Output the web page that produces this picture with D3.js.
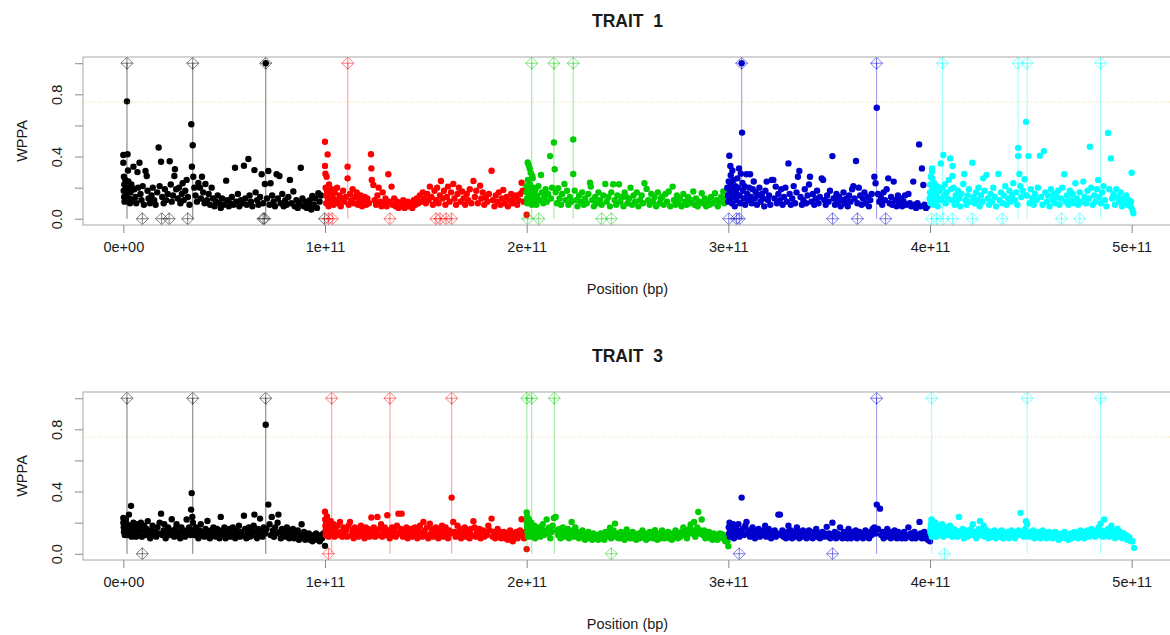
<!DOCTYPE html>
<html>
<head>
<meta charset="utf-8">
<script src="https://cdn.jsdelivr.net/npm/d3@7"></script>
<style>
  body { margin: 0; background: #fff; }
  svg text { font-family: "Liberation Sans", Arial, sans-serif; fill: #1a1a1a; }
</style>
</head>
<body>
<div id="chart"></div>
<script>
// positions in Gbp (1e9 bp), values are WPPA
const chromColors = ['#000000', '#FF0000', '#00CD00', '#0000CD', '#00FFFF'];
const xTicks = [0, 1e11, 2e11, 3e11, 4e11, 5e11];
const yTicks = [0, 0.2, 0.4, 0.6, 0.8, 1.0];
const yLabelled = [0, 0.4, 0.8];
const threshold = 0.75;

const trait1Chr1 = [[0,0.41],[0,0.36],[0.3,0.27],[0.5,0.22],[0.2,0.18],[0.4,0.14],[0.6,0.11],[1,0.25],[1.2,0.19],[1.5,0.16],[1.8,0.755],[2.1,0.415],[2.3,0.31],[2.5,0.24],[2.8,0.2],[3,0.13],[3.3,0.1],[3.6,0.17],[4,0.22],[4.3,0.12],[5,0.335],[5.5,0.19],[6,0.14],[6.4,0.1],[7,0.3],[7.3,0.2],[8,0.36],[8.5,0.16],[9,0.12],[9.6,0.21],[10.2,0.09],[11,0.307],[11.6,0.275],[12,0.18],[12.5,0.13],[13.2,0.1],[14,0.15],[14.6,0.2],[15.3,0.12],[16,0.09],[16.8,0.17],[17.5,0.458],[18,0.21],[18.7,0.367],[19.3,0.14],[20,0.1],[20.6,0.19],[21.3,0.12],[22,0.16],[23,0.37],[23.5,0.22],[24,0.11],[24.6,0.15],[25.3,0.275],[25.6,0.318],[26.2,0.19],[27,0.13],[27.6,0.2],[28.3,0.1],[29,0.16],[29.4,0.228],[30,0.12],[30.7,0.18],[31.4,0.25],[32,0.14],[32.8,0.09],[33.7,0.608],[34,0.335],[34.4,0.473],[34.7,0.27],[35.2,0.2],[35.8,0.15],[36.5,0.11],[37.2,0.23],[38,0.2],[38.5,0.13],[39,0.27],[39.6,0.17],[40.3,0.1],[40.7,0.224],[41.5,0.12],[42.3,0.16],[43,0.09],[43.8,0.2],[44.5,0.13],[45.2,0.08],[46,0.11],[46.8,0.15],[47.5,0.1],[48.3,0.07],[49,0.13],[49.8,0.09],[51,0.245],[51.5,0.12],[52.3,0.08],[53,0.1],[53.8,0.14],[54.6,0.09],[55.4,0.328],[56,0.11],[56.8,0.16],[57.5,0.08],[58.3,0.12],[59,0.1],[59.8,0.341],[60.5,0.13],[61.2,0.09],[62,0.384],[62.6,0.15],[63.3,0.11],[64,0.08],[65,0.313],[65.6,0.17],[66.3,0.12],[67,0.09],[67.8,0.14],[68.6,0.286],[69.3,0.1],[70.2,0.224],[70.6,1.0],[71.2,0.13],[71.9,0.307],[72.5,0.09],[73,0.228],[73.8,0.15],[74.5,0.11],[75.2,0.08],[76,0.286],[76.6,0.13],[77.4,0.275],[78,0.1],[78.8,0.16],[79.5,0.08],[80.3,0.12],[81,0.09],[81.8,0.14],[82.6,0.25],[83.3,0.1],[84.3,0.175],[85,0.08],[85.8,0.12],[86.5,0.07],[87.2,0.1],[88,0.328],[88.8,0.13],[89.5,0.08],[90.3,0.11],[91,0.07],[91.8,0.09],[92.5,0.12],[93.2,0.06],[93.7,0.147],[94.5,0.09],[95.2,0.13],[96,0.07],[96.7,0.164],[97.3,0.11],[98,0.15]];
const trait1Chr2 = [[100,0.495],[100,0.34],[100.2,0.29],[100.3,0.2],[100.5,0.15],[100.6,0.1],[100.8,0.27],[101,0.18],[101.3,0.414],[101.5,0.13],[101.8,0.08],[102,0.22],[102.4,0.16],[102.8,0.11],[103.3,0.19],[103.8,0.14],[104.3,0.09],[104.8,0.17],[105.4,0.12],[106,0.2],[106.6,0.1],[107.2,0.15],[107.8,0.08],[108.4,0.13],[109,0.18],[109.6,0.11],[110.3,0.14],[111.2,0.335],[111.2,0.26],[111.8,0.09],[112.4,0.16],[113,0.12],[113.7,0.19],[114.3,0.1],[115,0.14],[115.7,0.17],[116.3,0.09],[117,0.12],[117.7,0.15],[118.4,0.08],[119,0.11],[119.7,0.14],[120.4,0.09],[121,0.13],[121.8,0.1],[122.8,0.415],[123,0.324],[123.2,0.25],[124,0.217],[124.6,0.12],[125.3,0.09],[126,0.15],[126.6,0.2],[127.3,0.11],[128,0.08],[128.6,0.17],[129.3,0.1],[130,0.13],[130.6,0.08],[131.4,0.286],[132,0.11],[133,0.207],[133.6,0.09],[134.3,0.13],[135,0.08],[135.8,0.11],[136.5,0.07],[137.2,0.1],[138,0.08],[138.8,0.12],[139.5,0.07],[140.3,0.09],[141,0.11],[141.8,0.08],[142.5,0.1],[143.3,0.07],[144,0.12],[144.8,0.09],[145.5,0.13],[146.3,0.1],[147,0.15],[147.8,0.11],[148.5,0.17],[149.2,0.13],[150,0.1],[150.7,0.16],[151.4,0.12],[152,0.207],[152.8,0.14],[153.5,0.09],[154.3,0.18],[155,0.12],[155.6,0.2],[156.3,0.1],[157,0.15],[157.5,0.243],[158.2,0.13],[159,0.18],[159.7,0.09],[160.4,0.14],[161,0.207],[161.8,0.11],[162.5,0.17],[163.6,0.224],[164.2,0.13],[165,0.09],[165.7,0.16],[166.4,0.2],[167.2,0.11],[168,0.175],[168.7,0.13],[169.5,0.09],[170.3,0.16],[171,0.12],[171.8,0.19],[172.6,0.1],[173.6,0.243],[174.3,0.14],[175,0.18],[175.8,0.1],[176.9,0.213],[177.5,0.13],[178.2,0.17],[179,0.09],[179.8,0.14],[180.5,0.11],[181.3,0.16],[182.6,0.309],[183.2,0.12],[184,0.08],[184.7,0.15],[185.5,0.11],[186.2,0.17],[187,0.09],[187.7,0.13],[188.4,0.185],[189.2,0.1],[190,0.14],[190.7,0.08],[191.5,0.12],[192.3,0.16],[193,0.1],[193.8,0.13],[194.6,0.15],[195.3,0.09],[196,0.12],[196.8,0.16],[197.5,0.232],[198,0.18],[198.5,0.11],[200,0.026]];
const trait1Chr3 = [[199.8,0.21],[200,0.17],[200.2,0.13],[200.3,0.1],[200.5,0.362],[200.6,0.25],[200.8,0.19],[201,0.345],[201.2,0.15],[201.4,0.11],[201.5,0.324],[201.7,0.22],[202,0.296],[202.2,0.18],[202.4,0.13],[202.6,0.09],[202.8,0.275],[203,0.26],[203.3,0.2],[203.6,0.16],[204,0.12],[204.4,0.19],[204.8,0.09],[205.3,0.15],[205.8,0.21],[206.3,0.12],[207.1,0.281],[207.6,0.17],[208.2,0.1],[208.8,0.14],[209.4,0.19],[210,0.11],[210.6,0.16],[211.6,0.403],[212,0.13],[212.6,0.2],[213.5,0.49],[213.9,0.318],[214.4,0.17],[215,0.1],[215.6,0.196],[216.3,0.13],[217,0.09],[217.6,0.16],[218.7,0.224],[219.3,0.12],[220,0.18],[220.7,0.09],[221.4,0.14],[222.2,0.11],[223.1,0.51],[223.1,0.288],[223.8,0.181],[224.5,0.12],[225.2,0.08],[226,0.15],[226.8,0.11],[227.5,0.17],[228.3,0.09],[229,0.13],[229.8,0.1],[230.6,0.16],[231.4,0.232],[231.8,0.207],[232.5,0.12],[233.3,0.08],[234,0.14],[234.8,0.1],[235.6,0.17],[236.4,0.12],[237.2,0.09],[238,0.15],[239,0.224],[239.7,0.11],[240.5,0.14],[241.3,0.08],[242,0.17],[242.9,0.222],[243.6,0.12],[244.4,0.09],[245,0.15],[245.8,0.222],[246.5,0.11],[247.3,0.14],[248,0.08],[248.6,0.17],[249.3,0.142],[250,0.1],[250.8,0.13],[251.5,0.2],[252.3,0.09],[253,0.15],[253.8,0.11],[254.6,0.17],[255.4,0.08],[256.2,0.12],[257,0.15],[257.7,0.1],[258.4,0.228],[259.5,0.192],[260.3,0.12],[261,0.09],[261.8,0.16],[262.6,0.11],[263.4,0.14],[264.2,0.08],[265,0.17],[265.8,0.1],[266.6,0.13],[267.3,0.142],[268,0.09],[268.8,0.16],[269.6,0.11],[270.4,0.175],[271.2,0.08],[272.4,0.207],[273,0.12],[273.8,0.09],[274.5,0.15],[275.3,0.1],[276,0.13],[276.8,0.08],[277.7,0.16],[278.5,0.11],[279.3,0.09],[280,0.14],[280.8,0.1],[281.6,0.12],[282.6,0.175],[283.3,0.09],[284,0.13],[284.8,0.08],[285.6,0.11],[286.8,0.164],[287.5,0.1],[288.3,0.13],[289,0.08],[289.8,0.12],[290.6,0.09],[291.4,0.14],[292.2,0.1],[293.4,0.164],[294,0.12],[294.8,0.08],[295.6,0.11],[296.4,0.14],[297.5,0.175],[298,0.1],[298.6,0.13]];
const trait1Chr4 = [[299.5,0.2],[299.8,0.15],[300,0.11],[300.2,0.24],[300.5,0.405],[300.6,0.18],[300.8,0.13],[301,0.34],[301.2,0.28],[301.4,0.22],[301.6,0.16],[301.8,0.1],[302,0.31],[302.3,0.19],[302.6,0.25],[302.9,0.14],[303.2,0.08],[303.5,0.21],[303.8,0.17],[304.1,0.12],[304.5,0.26],[304.8,0.2],[305.3,0.324],[305.6,0.15],[305.9,0.1],[306.2,0.29],[306.6,1.0],[306.8,0.554],[307,0.23],[307.3,0.18],[307.6,0.13],[308,0.21],[308.4,0.09],[309,0.286],[309.4,0.16],[309.8,0.12],[310.3,0.2],[310.8,0.286],[311.2,0.14],[311.6,0.1],[312.1,0.19],[312.6,0.24],[313.1,0.13],[313.6,0.17],[314.2,0.09],[314.8,0.15],[315.4,0.2],[316,0.11],[316.6,0.16],[317.2,0.13],[317.8,0.08],[318.4,0.18],[319,0.239],[319.6,0.12],[320.2,0.15],[320.8,0.09],[321.5,0.25],[322.3,0.25],[322.9,0.13],[323.5,0.207],[324.1,0.1],[324.8,0.16],[325.5,0.12],[326.2,0.19],[326.9,0.09],[327.6,0.14],[328.3,0.2],[329,0.11],[329.8,0.356],[330.4,0.16],[331,0.09],[331.7,0.13],[332.4,0.21],[333.1,0.1],[333.8,0.17],[334.5,0.27],[335.2,0.307],[335.8,0.14],[336.5,0.09],[337.2,0.12],[337.9,0.19],[338.6,0.1],[339.3,0.15],[340,0.22],[340.5,0.27],[341.2,0.11],[341.9,0.16],[342.6,0.09],[343.3,0.13],[344,0.18],[344.7,0.1],[345.4,0.14],[346.3,0.26],[347,0.25],[347.6,0.12],[348.3,0.09],[349,0.15],[349.7,0.11],[350.4,0.18],[351.6,0.403],[352.2,0.13],[352.9,0.09],[353.6,0.16],[354.3,0.11],[355,0.14],[355.7,0.08],[356.4,0.12],[357.1,0.17],[357.8,0.1],[358.5,0.13],[359.2,0.08],[359.9,0.15],[360.6,0.11],[361.4,0.19],[362,0.209],[362.6,0.13],[363.3,0.371],[364,0.1],[364.7,0.2],[365.4,0.15],[366.1,0.09],[366.8,0.13],[367.5,0.17],[368.2,0.1],[369,0.14],[369.7,0.08],[370.4,0.12],[371.1,0.16],[372.4,0.27],[373,0.228],[373.6,0.714],[374.2,0.16],[374.9,0.11],[375.6,0.14],[376.3,0.09],[377,0.17],[377.7,0.12],[378.5,0.19],[379.3,0.26],[380,0.1],[380.7,0.14],[381.3,0.09],[382,0.239],[382.7,0.12],[383.4,0.08],[384.1,0.15],[384.8,0.1],[385.5,0.13],[386.2,0.08],[386.9,0.11],[387.6,0.15],[388.3,0.09],[389.3,0.16],[390,0.1],[390.7,0.08],[391.7,0.239],[392.4,0.09],[393.1,0.07],[393.8,0.1],[394.6,0.478],[395.3,0.08],[396,0.324],[396.7,0.217],[397.3,0.09],[398,0.07],[398.7,0.08]];
const trait1Chr5 = [[399.8,0.13],[400,0.17],[400.1,0.22],[400.2,0.1],[400.4,0.27],[400.6,0.15],[401,0.324],[401,0.303],[401.1,0.26],[401.2,0.2],[401.4,0.12],[401.6,0.18],[401.8,0.09],[402,0.23],[402.3,0.14],[402.6,0.19],[402.9,0.11],[403.2,0.16],[403.5,0.21],[403.9,0.08],[404.3,0.13],[404.7,0.18],[405.3,0.356],[405.7,0.12],[406.1,0.2],[406.6,0.41],[407,0.15],[407.4,0.22],[407.8,0.1],[408.3,0.17],[408.8,0.13],[409.3,0.25],[410,0.388],[410.4,0.19],[410.8,0.12],[411.2,0.339],[411.2,0.275],[411.7,0.2],[412.2,0.09],[412.7,0.15],[413.2,0.11],[413.8,0.18],[414.4,0.13],[415,0.08],[415.6,0.16],[416.5,0.224],[417,0.288],[417.5,0.12],[418.1,0.09],[418.7,0.15],[419.3,0.19],[419.9,0.11],[421,0.36],[421.6,0.14],[422.2,0.1],[422.8,0.17],[423.4,0.12],[424,0.2],[424.6,0.08],[425.3,0.15],[426,0.11],[426.4,0.26],[427,0.18],[428,0.281],[428.6,0.13],[429.3,0.09],[430,0.16],[430.7,0.11],[431.4,0.2],[432.1,0.14],[432.8,0.08],[433.9,0.288],[434.5,0.12],[435.2,0.17],[435.9,0.1],[436.6,0.15],[437.3,0.21],[438,0.09],[438.7,0.13],[439.4,0.18],[440.1,0.11],[440.7,0.15],[441.3,0.228],[442,0.12],[442.7,0.17],[443.3,0.09],[443.7,0.456],[443.7,0.403],[444.3,0.288],[444.8,0.21],[445.3,0.14],[446,0.18],[446.9,0.254],[447.6,0.623],[448,0.15],[448.8,0.403],[449.4,0.1],[450,0.19],[450.7,0.13],[451.4,0.09],[452.1,0.16],[452.8,0.12],[453.5,0.2],[454.5,0.405],[455.1,0.14],[455.8,0.09],[456.5,0.435],[457.2,0.17],[457.9,0.11],[458.6,0.15],[459.3,0.08],[460,0.19],[460.7,0.12],[461.4,0.16],[462.1,0.1],[462.8,0.14],[463.5,0.18],[464.2,0.09],[464.9,0.13],[465.6,0.2],[466.6,0.286],[467.2,0.11],[467.9,0.15],[468.6,0.09],[469.3,0.18],[470,0.12],[470.7,0.16],[471.4,0.1],[472.1,0.228],[472.8,0.13],[473.5,0.09],[474.2,0.17],[475,0.11],[476,0.239],[476.7,0.14],[477.4,0.1],[478.1,0.18],[478.8,0.13],[479.3,0.463],[480,0.2],[480.7,0.09],[481.4,0.15],[482.1,0.11],[482.8,0.19],[483.4,0.25],[484,0.14],[484.7,0.1],[485.4,0.17],[486.1,0.21],[486.8,0.12],[487.5,0.08],[488.3,0.552],[488.9,0.19],[489.7,0.388],[490.3,0.13],[491,0.16],[491.7,0.09],[492.4,0.19],[493.1,0.14],[493.8,0.11],[494.5,0.17],[495.2,0.08],[495.9,0.13],[496.6,0.1],[497.3,0.15],[498,0.09],[498.7,0.12],[499.4,0.08],[499.7,0.11],[500,0.296],[500.3,0.06],[500.8,0.036]];

const trait3Chr1 = [[0,0.23],[0,0.2],[0.2,0.17],[0.3,0.14],[0.5,0.21],[0.7,0.12],[0.9,0.18],[1.1,0.15],[1.3,0.22],[1.5,0.13],[1.8,0.19],[2,0.16],[2.3,0.12],[2.8,0.252],[3,0.18],[3.3,0.14],[3.8,0.308],[4.1,0.11],[4.5,0.17],[5,0.2],[5.4,0.13],[5.9,0.16],[6.3,0.11],[6.8,0.19],[7.2,0.14],[7.7,0.12],[8.2,0.17],[8.7,0.2],[9.2,0.11],[9.7,0.15],[10.3,0.18],[10.9,0.12],[11.5,0.16],[12.1,0.21],[12.7,0.13],[13.3,0.1],[13.9,0.15],[14.5,0.18],[15.1,0.12],[15.7,0.14],[16.3,0.11],[16.9,0.17],[17.5,0.13],[18,0.2],[18.7,0.258],[19.3,0.12],[20,0.15],[20.3,0.19],[21,0.1],[21.6,0.14],[22.2,0.17],[22.8,0.12],[23.4,0.15],[24,0.222],[24.6,0.13],[25.2,0.11],[25.8,0.16],[26.4,0.19],[27,0.12],[27.6,0.14],[28.2,0.1],[28.8,0.17],[29.4,0.13],[30,0.15],[30.6,0.11],[31.4,0.22],[32,0.14],[32.6,0.17],[33.2,0.12],[33.6,0.284],[33.9,0.39],[34.2,0.237],[34.5,0.2],[34.8,0.15],[35.4,0.12],[36,0.17],[36.6,0.13],[37.2,0.1],[37.8,0.15],[38.4,0.19],[39,0.12],[39.6,0.14],[40.2,0.11],[40.8,0.16],[41.7,0.211],[42.3,0.13],[42.9,0.1],[43.5,0.15],[44.1,0.12],[44.7,0.17],[45.3,0.14],[45.9,0.11],[46.5,0.16],[47.1,0.13],[47.7,0.1],[48.3,0.237],[48.9,0.15],[49.5,0.12],[50.1,0.17],[50.7,0.1],[51.3,0.14],[51.9,0.12],[52.5,0.16],[53.1,0.11],[53.7,0.14],[54.3,0.17],[54.9,0.12],[55.5,0.1],[56.1,0.15],[56.7,0.13],[57.3,0.18],[57.9,0.11],[58.5,0.14],[59.1,0.12],[59.8,0.244],[60.4,0.16],[61,0.1],[61.6,0.13],[62.2,0.17],[62.8,0.11],[63.4,0.15],[64,0.12],[64.6,0.18],[65,0.252],[65.6,0.14],[66.2,0.1],[66.8,0.16],[67.4,0.12],[67.8,0.226],[68.4,0.15],[69,0.11],[69.6,0.17],[70.2,0.13],[70.6,0.829],[71,0.16],[71.9,0.316],[72.5,0.19],[73,0.12],[73.6,0.237],[74.2,0.15],[74.7,0.109],[75.3,0.17],[75.9,0.13],[76.5,0.2],[76.9,0.252],[77.5,0.14],[78.1,0.1],[78.7,0.16],[79.3,0.12],[79.9,0.15],[80.5,0.11],[81.1,0.17],[81.7,0.13],[82.3,0.1],[82.9,0.14],[83.5,0.12],[84.1,0.16],[84.7,0.1],[85.3,0.13],[85.9,0.11],[86.5,0.15],[87.1,0.09],[87.7,0.12],[88.4,0.19],[89,0.11],[89.6,0.14],[90.2,0.09],[90.8,0.12],[91.4,0.1],[92,0.13],[92.6,0.09],[93.2,0.11],[93.8,0.08],[94.4,0.12],[95,0.1],[95.6,0.13],[96.2,0.09],[96.8,0.11],[97.4,0.08],[98,0.12],[98.6,0.1],[99.2,0.13],[100,0.051]];
const trait3Chr2 = [[100,0.27],[100.1,0.22],[100.2,0.18],[100.3,0.15],[100.4,0.12],[100.6,0.2],[100.8,0.16],[101,0.24],[101.2,0.13],[101.5,0.19],[101.8,0.11],[102.1,0.17],[102.5,0.14],[102.9,0.21],[103.3,0.12],[103.7,0.16],[104.2,0.19],[104.7,0.11],[105.2,0.15],[105.7,0.13],[106.2,0.18],[106.8,0.12],[107.4,0.205],[108,0.14],[108.6,0.11],[109.2,0.17],[109.8,0.13],[110.4,0.15],[111,0.11],[111.7,0.18],[112.4,0.205],[113,0.12],[113.6,0.15],[114.2,0.1],[114.8,0.17],[115.4,0.13],[116,0.16],[116.6,0.11],[117.2,0.14],[117.8,0.18],[118.4,0.12],[119,0.15],[119.6,0.1],[120.2,0.17],[120.8,0.13],[121.4,0.16],[122,0.11],[123,0.233],[123.6,0.14],[124.2,0.17],[124.8,0.11],[125.4,0.15],[126,0.237],[126.6,0.12],[127.2,0.16],[127.8,0.19],[128.4,0.11],[129,0.14],[129.6,0.17],[130.2,0.12],[130.9,0.248],[131.5,0.15],[132.1,0.1],[132.7,0.14],[133.3,0.17],[133.9,0.12],[134.5,0.15],[135.1,0.11],[135.7,0.18],[136.4,0.258],[137,0.13],[137.6,0.16],[138,0.258],[138.6,0.11],[139.2,0.15],[139.8,0.12],[140.4,0.17],[141,0.1],[141.6,0.14],[142.2,0.12],[142.8,0.16],[143.4,0.11],[144,0.14],[144.6,0.17],[145.2,0.12],[145.8,0.1],[146.4,0.15],[147.1,0.18],[147.7,0.13],[148.3,0.11],[148.8,0.205],[149.4,0.15],[150,0.12],[150.6,0.17],[151.2,0.1],[152,0.194],[152.6,0.13],[153.2,0.16],[153.8,0.11],[154.4,0.14],[155,0.17],[155.6,0.12],[156.2,0.1],[156.8,0.16],[157.4,0.13],[158,0.18],[158.6,0.11],[159.2,0.14],[159.8,0.17],[160.4,0.12],[161,0.1],[161.6,0.15],[162.2,0.13],[162.8,0.361],[163.6,0.205],[164.2,0.14],[164.8,0.11],[165.7,0.18],[166.3,0.13],[166.9,0.16],[167.5,0.1],[168.1,0.14],[168.7,0.12],[169.3,0.17],[169.9,0.11],[170.5,0.15],[171.1,0.13],[171.7,0.1],[172.3,0.16],[172.9,0.12],[173.6,0.209],[174.2,0.17],[174.8,0.11],[175.4,0.14],[176,0.12],[176.6,0.16],[177.2,0.1],[177.8,0.13],[178.4,0.15],[179,0.11],[179.6,0.14],[180.3,0.12],[181,0.18],[181.6,0.15],[182.6,0.226],[183.2,0.11],[183.8,0.14],[184.4,0.1],[185,0.13],[185.6,0.16],[186.2,0.11],[186.8,0.14],[187.4,0.1],[188,0.12],[188.8,0.141],[189.4,0.1],[190,0.13],[190.6,0.09],[191.2,0.12],[191.8,0.15],[192.4,0.1],[193.1,0.081],[193.7,0.13],[194.3,0.11],[194.9,0.14],[195.5,0.1],[196.1,0.12],[196.7,0.15],[197.5,0.222],[198.1,0.13],[198.7,0.1],[199.3,0.14],[200,0.03]];
const trait3Chr3 = [[200,0.265],[200.1,0.2],[200.2,0.17],[200.3,0.237],[200.4,0.14],[200.6,0.11],[200.8,0.19],[201,0.15],[201.2,0.22],[201.4,0.12],[201.7,0.17],[202,0.14],[202.3,0.2],[202.6,0.11],[203,0.16],[203.4,0.13],[203.8,0.18],[204.2,0.1],[204.7,0.15],[205.2,0.12],[205.7,0.17],[206.2,0.14],[206.8,0.11],[207.4,0.16],[208,0.19],[208.6,0.12],[209.2,0.15],[209.9,0.22],[210.5,0.13],[211.1,0.17],[211.7,0.1],[212.3,0.14],[212.9,0.18],[213.5,0.23],[214.4,0.237],[215,0.15],[215.6,0.12],[216.2,0.16],[216.8,0.1],[217.4,0.13],[218,0.17],[218.6,0.11],[219.2,0.14],[219.8,0.12],[220.4,0.16],[221,0.1],[221.6,0.13],[222.3,0.205],[222.9,0.15],[223.5,0.11],[224.1,0.17],[224.7,0.12],[225.3,0.14],[225.9,0.1],[226.5,0.13],[227.1,0.11],[227.7,0.15],[228.3,0.12],[228.9,0.09],[229.5,0.13],[230.1,0.11],[230.7,0.14],[231.3,0.1],[231.9,0.12],[232.5,0.09],[233.1,0.13],[233.7,0.11],[234.3,0.1],[234.9,0.12],[235.5,0.09],[236.1,0.11],[236.7,0.13],[237.3,0.1],[237.9,0.12],[238.5,0.09],[239.1,0.14],[239.7,0.11],[240.5,0.13],[241.3,0.167],[241.9,0.1],[242.5,0.12],[243.1,0.15],[243.8,0.194],[244.4,0.11],[245,0.13],[245.6,0.1],[246.2,0.12],[246.8,0.14],[247.4,0.1],[248,0.12],[248.6,0.09],[249.2,0.13],[249.6,0.156],[250.2,0.11],[250.8,0.13],[251.4,0.1],[252,0.12],[252.6,0.14],[253.2,0.1],[253.8,0.12],[254.4,0.09],[255,0.11],[255.6,0.13],[256.2,0.1],[256.8,0.12],[257.4,0.15],[258,0.11],[258.6,0.13],[259.2,0.09],[259.8,0.12],[260.4,0.1],[261,0.14],[261.6,0.11],[262.2,0.13],[262.8,0.1],[263.6,0.152],[264.2,0.12],[264.8,0.09],[265.4,0.11],[266,0.13],[266.6,0.1],[267.2,0.15],[267.8,0.12],[268.4,0.1],[269,0.13],[269.6,0.11],[270.2,0.14],[270.8,0.1],[271.4,0.12],[272,0.09],[272.6,0.13],[273.2,0.11],[273.8,0.15],[274.4,0.12],[275,0.1],[275.6,0.13],[276.2,0.11],[276.8,0.14],[277.7,0.169],[278.3,0.12],[278.9,0.15],[279.5,0.1],[280.1,0.13],[280.7,0.16],[281.3,0.188],[281.9,0.13],[282.5,0.15],[283,0.205],[283.6,0.11],[284.2,0.14],[284.6,0.17],[285.1,0.269],[285.7,0.13],[286.2,0.15],[286.8,0.22],[287.4,0.12],[288,0.15],[288.6,0.1],[289.2,0.13],[289.8,0.11],[290.4,0.14],[291,0.1],[291.6,0.12],[292.2,0.09],[292.8,0.13],[293.4,0.1],[294,0.12],[294.6,0.09],[295.2,0.11],[295.8,0.13],[296.7,0.126],[297.3,0.1],[297.9,0.12],[298.5,0.08],[299.1,0.09],[299.6,0.08],[300,0.049]];
const trait3Chr4 = [[300.2,0.17],[300.4,0.13],[300.6,0.2],[300.8,0.11],[301,0.15],[301.3,0.18],[301.6,0.12],[302,0.16],[302.4,0.19],[302.8,0.1],[303.2,0.14],[303.6,0.17],[304,0.12],[304.5,0.15],[305,0.19],[305.5,0.11],[306,0.14],[306.6,0.361],[307.2,0.16],[307.8,0.12],[308.4,0.18],[309,0.205],[309.6,0.13],[310.2,0.15],[310.8,0.11],[311.4,0.14],[312,0.17],[312.6,0.12],[313.2,0.1],[313.8,0.15],[314.4,0.13],[315,0.16],[315.6,0.11],[316.2,0.14],[316.8,0.12],[317.4,0.15],[318.2,0.18],[318.8,0.11],[319.4,0.13],[320,0.16],[320.6,0.12],[321.2,0.1],[321.8,0.14],[322.4,0.12],[323,0.15],[323.6,0.11],[324.2,0.13],[324.8,0.252],[325.6,0.252],[326.2,0.12],[326.8,0.15],[327.4,0.11],[328,0.13],[328.6,0.1],[329.2,0.14],[329.8,0.18],[330.4,0.12],[331,0.15],[331.6,0.1],[332.2,0.13],[332.8,0.11],[333.4,0.14],[334,0.17],[334.6,0.12],[335.2,0.1],[335.8,0.14],[336.4,0.12],[337,0.15],[337.6,0.11],[338.2,0.13],[338.8,0.1],[339.4,0.12],[340,0.15],[340.6,0.11],[341.2,0.13],[341.8,0.1],[342.4,0.14],[343,0.12],[343.6,0.16],[344.2,0.11],[344.8,0.13],[345.4,0.1],[346,0.12],[346.6,0.14],[347.2,0.11],[347.8,0.13],[348.8,0.173],[349.4,0.11],[350,0.13],[350.6,0.1],[351.6,0.2],[352.2,0.12],[352.8,0.14],[353.4,0.1],[354,0.13],[354.6,0.11],[355.4,0.17],[356,0.12],[356.6,0.1],[357.2,0.14],[357.8,0.11],[358.4,0.13],[359,0.1],[359.6,0.16],[360.2,0.12],[360.8,0.1],[361.4,0.14],[362,0.11],[362.6,0.13],[363.2,0.15],[363.8,0.1],[364.4,0.12],[365,0.14],[365.6,0.11],[366.2,0.13],[366.8,0.1],[367.4,0.12],[368,0.15],[368.6,0.11],[369.2,0.13],[369.8,0.1],[370.4,0.14],[371,0.12],[371.6,0.16],[372.4,0.17],[373,0.13],[373.6,0.316],[374.2,0.16],[375.2,0.29],[375.8,0.12],[376.4,0.14],[377,0.1],[377.6,0.13],[378.2,0.11],[378.8,0.16],[379.4,0.12],[380,0.14],[380.6,0.1],[381.2,0.13],[381.8,0.11],[382.4,0.15],[383,0.12],[383.6,0.1],[384.2,0.14],[384.8,0.11],[385.4,0.13],[386,0.1],[386.6,0.12],[387.2,0.14],[387.8,0.1],[388.4,0.12],[389.3,0.17],[389.9,0.11],[390.5,0.13],[391.1,0.1],[391.7,0.12],[392.3,0.14],[392.9,0.1],[393.5,0.12],[394.2,0.11],[394.8,0.205],[395.4,0.13],[396,0.1],[396.6,0.12],[397.2,0.14],[397.8,0.1],[398.4,0.11],[399,0.09],[399.5,0.1],[400,0.081]];
const trait3Chr5 = [[400.2,0.16],[400.4,0.19],[400.5,0.13],[400.7,0.22],[400.9,0.11],[401,0.216],[401.2,0.15],[401.4,0.18],[401.7,0.12],[402,0.17],[402.3,0.14],[402.7,0.2],[403.1,0.11],[403.5,0.15],[404,0.18],[404.5,0.12],[405,0.16],[405.5,0.13],[406,0.19],[406.6,0.11],[407.2,0.15],[407.8,0.13],[408.4,0.17],[409,0.12],[409.9,0.18],[410.5,0.14],[411.1,0.11],[411.7,0.16],[412.3,0.13],[412.9,0.15],[413.5,0.11],[414.4,0.237],[415,0.14],[415.6,0.12],[416.2,0.16],[416.8,0.1],[417.4,0.13],[418,0.15],[418.6,0.11],[419.2,0.14],[419.8,0.12],[420.4,0.16],[421.2,0.19],[421.8,0.12],[422.4,0.14],[423,0.1],[423.6,0.13],[424.2,0.16],[424.8,0.211],[425.4,0.12],[426,0.15],[426.6,0.18],[427.2,0.11],[427.8,0.13],[428.4,0.15],[429,0.1],[429.6,0.13],[430.2,0.11],[430.8,0.14],[431.4,0.12],[432,0.15],[432.6,0.1],[433.2,0.13],[433.8,0.11],[434.4,0.14],[435,0.12],[435.6,0.15],[436.2,0.1],[436.8,0.13],[437.4,0.11],[438,0.12],[438.6,0.14],[439.2,0.1],[439.8,0.13],[440.4,0.15],[441,0.11],[441.6,0.13],[442.2,0.1],[442.8,0.14],[443.4,0.12],[444,0.15],[444.9,0.263],[445.5,0.12],[446.1,0.14],[446.7,0.11],[447.3,0.16],[447.6,0.209],[448.2,0.19],[448.8,0.13],[449.4,0.11],[450,0.14],[450.6,0.12],[451.2,0.15],[451.8,0.1],[452.4,0.13],[453,0.11],[453.6,0.14],[454.2,0.12],[454.8,0.1],[455.4,0.13],[456,0.15],[456.6,0.11],[457.2,0.13],[457.8,0.1],[458.4,0.12],[459,0.14],[459.6,0.11],[460.2,0.13],[460.8,0.1],[461.4,0.12],[462,0.14],[462.6,0.11],[463.2,0.13],[463.8,0.09],[464.4,0.12],[465,0.1],[465.6,0.13],[466.2,0.11],[466.8,0.14],[467.4,0.1],[468,0.12],[468.6,0.09],[469.2,0.11],[469.8,0.13],[470.4,0.1],[471,0.12],[471.6,0.14],[472.2,0.11],[472.8,0.13],[473.4,0.1],[474,0.12],[474.6,0.15],[475.2,0.11],[475.8,0.13],[476.4,0.1],[477,0.14],[477.6,0.12],[478.2,0.15],[478.8,0.11],[479.4,0.13],[480,0.16],[480.6,0.12],[481.2,0.14],[481.8,0.11],[482.4,0.15],[483,0.13],[483.6,0.17],[484.2,0.12],[484.6,0.194],[485.2,0.15],[485.8,0.11],[486.4,0.22],[487,0.14],[487.6,0.12],[488.2,0.16],[488.8,0.11],[489.4,0.13],[490,0.18],[490.6,0.12],[491.2,0.15],[491.8,0.1],[492.4,0.13],[493,0.16],[493.6,0.11],[494.2,0.14],[494.8,0.12],[495.4,0.1],[496,0.13],[496.6,0.11],[497.2,0.12],[497.8,0.09],[498.4,0.11],[499,0.1],[499.6,0.08],[500.4,0.081],[501.2,0.038]];

// QTL markers (Gbp): hits get a line and a diamond at 1, misses a diamond at 0
const trait1Hits = [1.8, 34.4, 70.6, 111.3, 202.5, 213.5, 223.1, 306.6, 373.5, 406.2, 443.7, 448.2, 484.6];
const trait1Misses = [9.4, 19, 22.7, 31.9, 69.3, 70, 99.8, 101.8, 103.6, 132.2, 155, 157, 160, 162.8, 200.5, 206, 237.2, 242, 300.2, 304, 305.4, 351.7, 364, 378, 400.8, 403.3, 406.6, 411.2, 421, 435.8, 465.2, 474.3];
const trait3Hits = [1.8, 34.4, 70.6, 103.3, 132.2, 162.8, 200.1, 202.5, 213.7, 373.5, 400.8, 448.2, 484.6];
const trait3Misses = [9.4, 101.7, 242, 305.4, 351.7, 407.2];

const width = 1170, height = 635;
const plotLeft = 83, plotRight = 1172;

const svg = d3.select('#chart').append('svg')
  .attr('width', width)
  .attr('height', height);

const x = d3.scaleLinear().domain([-2e10, 5.2e11]).range([plotLeft, plotRight]);

function chromColor(p) {
  return chromColors[Math.max(0, Math.min(4, Math.floor(p / 100)))];
}

function diamondPath(s) {
  return 'M0,' + (-s) + 'L' + s + ',0L0,' + s + 'L' + (-s) + ',0Z' +
    'M0,' + (-s) + 'V' + s + 'M' + (-s) + ',0H' + s;
}

function drawPanel(top, title, chroms, hits, misses) {
  const boxTop = top, boxBottom = top + 168;
  const y = d3.scaleLinear().domain([-0.04, 1.04]).range([boxBottom, boxTop]);
  const g = svg.append('g');

  // points
  chroms.forEach((pts, i) => {
    g.append('g').selectAll('circle')
      .data(pts)
      .join('circle')
      .attr('cx', d => x(d[0] * 1e9))
      .attr('cy', d => y(d[1]))
      .attr('r', 3.2)
      .attr('fill', chromColors[i]);
  });

  // threshold
  g.append('line')
    .attr('x1', plotLeft).attr('x2', plotRight)
    .attr('y1', y(threshold)).attr('y2', y(threshold))
    .attr('stroke', '#f3b64a')
    .attr('stroke-opacity', 0.55)
    .attr('stroke-dasharray', '1,2');

  // hit lines and diamonds
  g.append('g').selectAll('line')
    .data(hits)
    .join('line')
    .attr('x1', d => x(d * 1e9)).attr('x2', d => x(d * 1e9))
    .attr('y1', y(0)).attr('y2', y(1))
    .attr('stroke', d => chromColor(d))
    .attr('stroke-opacity', d => chromColor(d) === '#000000' ? 0.45 : 0.35)
    .attr('stroke-width', 1.2);

  const marks = hits.map(p => [p, 1]).concat(misses.map(p => [p, 0]));
  g.append('g').selectAll('path')
    .data(marks)
    .join('path')
    .attr('transform', d => 'translate(' + x(d[0] * 1e9) + ',' + y(d[1]) + ')')
    .attr('d', diamondPath(6))
    .attr('fill', 'none')
    .attr('stroke', d => chromColor(d[0]))
    .attr('stroke-opacity', 0.5)
    .attr('stroke-width', 1);

  // box
  g.append('rect')
    .attr('x', plotLeft).attr('y', boxTop)
    .attr('width', plotRight - plotLeft).attr('height', boxBottom - boxTop)
    .attr('fill', 'none')
    .attr('stroke', '#a8a8a8');

  // axes
  const xAxis = d3.axisBottom(x)
    .tickValues(xTicks)
    .tickSize(8)
    .tickPadding(9)
    .tickFormat(v => v === 0 ? '0e+00' : d3.format('.0e')(v));
  const xa = g.append('g')
    .attr('transform', 'translate(0,' + boxBottom + ')')
    .call(xAxis);
  xa.select('.domain').remove();
  xa.selectAll('line').attr('stroke', '#888');
  xa.selectAll('text').attr('font-size', 14.5).attr('fill', '#1a1a1a');

  const yAxis = d3.axisLeft(y)
    .tickValues(yTicks)
    .tickSize(8)
    .tickFormat(v => yLabelled.includes(v) ? d3.format('.1f')(v) : '');
  const ya = g.append('g')
    .attr('transform', 'translate(' + plotLeft + ',0)')
    .call(yAxis);
  ya.select('.domain').remove();
  ya.selectAll('line').attr('stroke', '#888');
  ya.selectAll('text')
    .attr('font-size', 14.5)
    .attr('fill', '#1a1a1a')
    .attr('x', null).attr('dy', null)
    .attr('text-anchor', 'middle')
    .attr('transform', 'translate(-21,0) rotate(-90)');

  g.append('text')
    .attr('transform', 'translate(27,' + ((boxTop + boxBottom) / 2) + ') rotate(-90)')
    .attr('text-anchor', 'middle')
    .attr('font-size', 14.5)
    .text('WPPA');

  g.append('text')
    .attr('x', (plotLeft + plotRight) / 2)
    .attr('y', boxBottom + 69)
    .attr('text-anchor', 'middle')
    .attr('font-size', 14.5)
    .text('Position (bp)');

  g.append('text')
    .attr('x', (plotLeft + plotRight) / 2)
    .attr('y', boxTop - 30)
    .attr('text-anchor', 'middle')
    .attr('font-size', 17.5)
    .attr('font-weight', 'bold')
    .style('white-space', 'pre')
    .text(title);
}

drawPanel(57, 'TRAIT  1', [trait1Chr1, trait1Chr2, trait1Chr3, trait1Chr4, trait1Chr5], trait1Hits, trait1Misses);
drawPanel(392, 'TRAIT  3', [trait3Chr1, trait3Chr2, trait3Chr3, trait3Chr4, trait3Chr5], trait3Hits, trait3Misses);
</script>
</body>
</html>
